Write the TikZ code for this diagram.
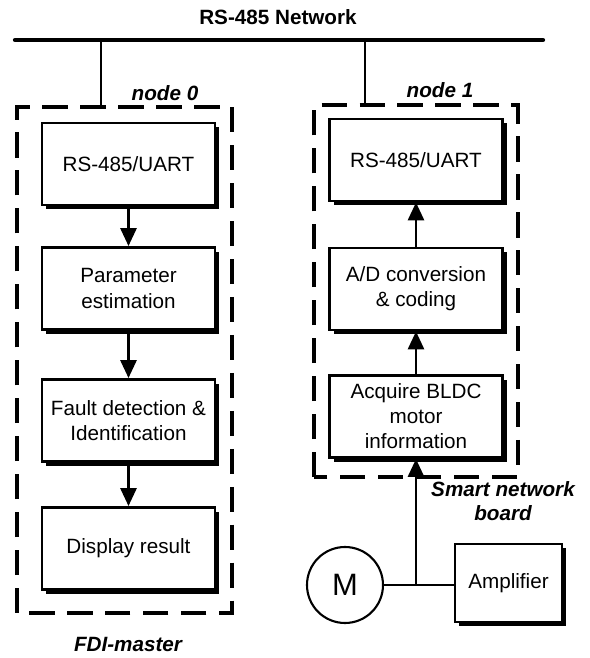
\documentclass[tikz,border=0pt]{standalone}
\usepackage{fontspec}
\setmainfont{Liberation Sans}
\usepackage{tikz}
\usetikzlibrary{arrows.meta, positioning, shadows}

\tikzset{
  block/.style={draw, line width=2pt, fill=white, align=center,
    minimum width=4.325cm, minimum height=2.05cm, inner sep=1pt,
    font=\fontsize{14.7}{17.8}\selectfont,
    drop shadow={shadow xshift=0.11cm, shadow yshift=-0.11cm, fill=black, opacity=1}},
  group/.style={draw, line width=2.8pt, dash pattern=on 18pt off 9pt},
  arr/.style={line width=2pt, -{Triangle[length=0.45cm, width=0.4cm]}},
  tag/.style={font=\fontsize{14.7}{17}\selectfont\bfseries\itshape, align=center}
}

\begin{document}
\begin{tikzpicture}[scale=1.0]
  \useasboundingbox (0,0) rectangle (14.75,16.45);

  % bus
  \node[font=\fontsize{14.7}{17}\selectfont\bfseries] (net) at (6.95,16.025) {RS-485 Network};
  \coordinate (busl) at (0.375,15.45);
  \coordinate (busr) at (13.575,15.45);
  \draw[line width=3pt, line cap=round] (busl) -- (busr);

  % node 0 (FDI-master)
  \draw[group] (0.425,1.125) rectangle (5.8,13.775);
  \coordinate (tap0) at (2.525,13.775);
  \draw[line width=1.8pt] (tap0) -- (tap0 |- busl);
  \node[tag] (lab0) at (4.125,14.125) {node 0};
  \node[tag] (fdim) at (3.2,0.35) {FDI-master};

  \node[block] (uart0) at (3.2125,12.35) {RS-485/UART};
  \node[block] (estim) at (3.2125,9.2375) {Parameter\\ estimation};
  \node[block] (fdi) at (3.2125,5.9375) {Fault detection \&\\ Identification};
  \node[block] (disp) at (3.2125,2.7375) {Display result};
  \draw[arr] (uart0) -- (estim);
  \draw[arr] (estim) -- (fdi);
  \draw[arr] (fdi) -- (disp);

  % node 1 (smart network board)
  \draw[group] (7.85,4.525) rectangle (12.95,13.825);
  \coordinate (tap1) at (9.125,13.825);
  \draw[line width=1.8pt] (tap1) -- (tap1 |- busl);
  \node[tag] (lab1) at (11.0,14.2) {node 1};
  \node[tag] (snb) at (12.575,3.925) {Smart network\\ board};

  \node[block] (uart1) at (10.4,12.45) {RS-485/UART};
  \node[block] (adc) at (10.4,9.225) {A/D conversion\\ \& coding};
  \node[block] (acq) at (10.4,6.0375) {Acquire BLDC\\ motor\\ information};
  \draw[arr] (adc) -- (uart1);
  \draw[arr] (acq) -- (adc);

  % motor and amplifier
  \node[draw, circle, line width=1.5pt, minimum size=1.9cm, inner sep=0pt,
        font=\fontsize{22}{24}\selectfont] (motor) at (8.625,1.825) {M};
  \node[block, minimum width=2.675cm, minimum height=1.95cm] (amp) at (12.7125,1.875) {Amplifier};
  \coordinate (junc) at (acq.south |- motor.east);
  \draw[line width=1.6pt] (motor.east) -- (junc) -- (junc -| amp.west);
  \draw[arr] (junc) -- (acq.south);
\end{tikzpicture}
\end{document}
